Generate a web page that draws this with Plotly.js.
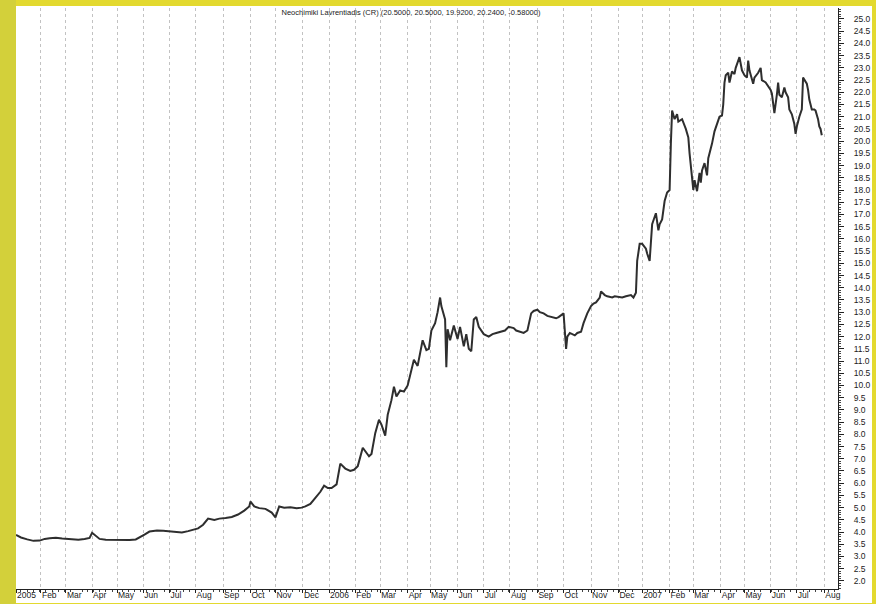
<!DOCTYPE html>
<html>
<head>
<meta charset="utf-8">
<script src="https://cdn.plot.ly/plotly-3.0.1.min.js"></script>
<style>html,body{margin:0;padding:0;background:#e3d92f;}#chart{width:876px;height:604px;}</style>
</head>
<body>
<div id="chart"></div>
<script>
// ---- data ----
const dates = [
"2005-01-03","2005-01-10","2005-01-17","2005-01-24","2005-01-31","2005-02-04","2005-02-10","2005-02-17","2005-02-24",
"2005-03-01","2005-03-08","2005-03-16","2005-03-23","2005-03-30","2005-04-01","2005-04-06","2005-04-11","2005-04-18","2005-04-25",
"2005-05-03","2005-05-10","2005-05-17","2005-05-24","2005-05-30","2005-06-02","2005-06-08","2005-06-16","2005-06-24",
"2005-07-01","2005-07-08","2005-07-15","2005-07-22","2005-07-28","2005-08-03","2005-08-09","2005-08-16","2005-08-23","2005-08-29",
"2005-09-05","2005-09-12","2005-09-19","2005-09-26","2005-09-30","2005-10-03","2005-10-06","2005-10-12","2005-10-19","2005-10-26",
"2005-11-01","2005-11-04","2005-11-10","2005-11-17","2005-11-24","2005-11-30","2005-12-05","2005-12-09","2005-12-15","2005-12-21","2005-12-27","2005-12-30",
"2006-01-04","2006-01-11","2006-01-16","2006-01-20","2006-01-26","2006-01-31","2006-02-03","2006-02-09","2006-02-16","2006-02-20","2006-02-23","2006-02-28",
"2006-03-02","2006-03-08","2006-03-10","2006-03-15","2006-03-17","2006-03-21","2006-03-24","2006-03-29",
"2006-04-03","2006-04-05","2006-04-10","2006-04-13","2006-04-19","2006-04-26","2006-04-28",
"2006-05-03","2006-05-08","2006-05-10","2006-05-12","2006-05-15","2006-05-17","2006-05-18","2006-05-19","2006-05-22","2006-05-24","2006-05-29",
"2006-06-01","2006-06-05","2006-06-08","2006-06-13","2006-06-15","2006-06-19","2006-06-21","2006-06-23","2006-06-27",
"2006-07-03","2006-07-07","2006-07-12","2006-07-17","2006-07-21","2006-07-26","2006-07-31",
"2006-08-04","2006-08-08","2006-08-14","2006-08-17","2006-08-22","2006-08-25","2006-08-29",
"2006-09-01","2006-09-05","2006-09-08","2006-09-13","2006-09-18","2006-09-22","2006-09-26",
"2006-10-02","2006-10-04","2006-10-05","2006-10-09","2006-10-13","2006-10-17","2006-10-20","2006-10-24","2006-10-27",
"2006-11-01","2006-11-03","2006-11-07","2006-11-10","2006-11-13","2006-11-16","2006-11-20","2006-11-24","2006-11-28",
"2006-12-01","2006-12-06","2006-12-11","2006-12-15","2006-12-19","2006-12-21","2006-12-22","2006-12-28",
"2007-01-02","2007-01-05","2007-01-08","2007-01-10","2007-01-12","2007-01-17","2007-01-19","2007-01-22","2007-01-24","2007-01-26","2007-01-30",
"2007-02-01","2007-02-02","2007-02-05","2007-02-07","2007-02-09","2007-02-12","2007-02-15","2007-02-21","2007-02-23","2007-02-26","2007-02-27",
"2007-03-01","2007-03-02","2007-03-06","2007-03-08","2007-03-09","2007-03-12","2007-03-14","2007-03-16","2007-03-19","2007-03-22","2007-03-26","2007-03-29","2007-03-30",
"2007-04-03","2007-04-04","2007-04-05","2007-04-10","2007-04-12","2007-04-13","2007-04-17","2007-04-19","2007-04-20","2007-04-24","2007-04-25","2007-04-27",
"2007-05-02","2007-05-04","2007-05-07","2007-05-08","2007-05-11","2007-05-14","2007-05-17","2007-05-21","2007-05-22","2007-05-25",
"2007-06-01","2007-06-04","2007-06-06","2007-06-08","2007-06-11","2007-06-12","2007-06-14","2007-06-18","2007-06-19","2007-06-21","2007-06-22","2007-06-26","2007-06-28","2007-06-29",
"2007-07-02","2007-07-04","2007-07-06","2007-07-09","2007-07-10","2007-07-12","2007-07-13","2007-07-16","2007-07-18","2007-07-20","2007-07-23","2007-07-25","2007-07-26","2007-07-27","2007-07-30"
];
const prices = [
3.88,3.78,3.70,3.64,3.65,3.72,3.75,3.77,3.74,
3.73,3.71,3.69,3.72,3.76,3.97,3.85,3.72,3.69,3.68,
3.67,3.66,3.68,3.70,3.80,3.90,4.02,4.06,4.05,
4.02,4.00,3.98,4.04,4.08,4.15,4.30,4.55,4.50,4.55,
4.58,4.62,4.72,4.88,5.05,5.25,5.05,4.98,4.95,4.80,
4.60,5.05,5.00,5.02,4.98,5.00,5.05,5.15,5.40,5.65,5.90,5.80,
5.80,5.95,6.80,6.60,6.50,6.55,6.70,7.45,7.10,7.20,8.05,8.60,
8.40,7.95,8.80,9.40,9.95,9.55,9.80,9.75,
10.00,10.40,11.05,10.80,11.85,11.45,11.50,
12.25,12.55,13.00,13.60,13.25,12.80,12.70,10.75,12.30,11.85,12.45,
11.90,12.40,11.60,12.10,11.50,11.40,12.70,12.80,12.40,
12.10,12.00,12.10,12.15,12.20,12.25,12.40,
12.35,12.25,12.20,12.15,12.25,12.95,13.05,
13.10,13.00,12.95,12.85,12.80,12.75,12.80,
12.95,11.50,12.00,12.15,12.05,12.15,12.20,12.55,12.95,
13.25,13.35,13.40,13.60,13.85,13.70,13.65,13.60,13.65,
13.62,13.60,13.65,13.70,13.60,13.80,15.10,15.80,
15.80,15.60,15.40,15.10,16.60,17.05,16.35,16.60,16.80,17.55,17.90,
18.00,19.90,21.25,20.90,21.10,20.80,20.90,20.50,20.15,19.50,18.90,
18.00,18.40,17.95,18.70,18.30,18.80,19.10,18.60,19.30,19.90,20.40,20.85,21.00,
21.05,21.50,22.40,22.70,22.80,22.40,22.85,22.75,23.00,23.30,23.44,22.90,
22.70,22.60,23.30,22.90,22.35,22.60,22.80,23.00,22.50,22.40,
22.10,21.95,21.15,21.90,22.40,21.90,21.80,22.20,22.00,21.80,21.30,21.10,20.70,20.30,
20.60,21.00,21.30,22.60,22.50,22.35,22.10,21.70,21.30,21.30,21.25,20.90,20.60,20.50,20.24
];
// first trading day of each month and its label
const monthTicks = [
"2005-01-03","2005-02-01","2005-03-01","2005-04-01","2005-05-03","2005-06-01","2005-07-01","2005-08-01","2005-09-01","2005-10-03","2005-11-01","2005-12-01",
"2006-01-02","2006-02-01","2006-03-01","2006-04-03","2006-05-02","2006-06-01","2006-07-03","2006-08-01","2006-09-01","2006-10-02","2006-11-01","2006-12-01",
"2007-01-02","2007-02-01","2007-03-01","2007-04-02","2007-05-02","2007-06-01","2007-07-02","2007-08-01"
];
const monthLabels = [
"2005","Feb","Mar","Apr","May","Jun","Jul","Aug","Sep","Oct","Nov","Dec",
"2006","Feb","Mar","Apr","May","Jun","Jul","Aug","Sep","Oct","Nov","Dec",
"2007","Feb","Mar","Apr","May","Jun","Jul","Aug"
];
// Athens exchange holidays (non-trading weekdays)
const holidays = [
"2005-01-06","2005-03-14","2005-03-25","2005-04-29","2005-05-02","2005-06-20","2005-08-15","2005-10-28","2005-12-26",
"2006-01-06","2006-03-06","2006-04-21","2006-04-24","2006-05-01","2006-06-12","2006-08-15","2006-12-25","2006-12-26",
"2007-01-01","2007-02-19","2007-04-06","2007-04-09","2007-05-01","2007-05-28"
];
const titleText = "Neochimiki Lavrentiadis (CR) (20.5000, 20.5000, 19.9200, 20.2400, -0.58000)";

// weekly minor ticks (Mondays) for the time axis
const weekTicks = [];
for (let d = new Date(Date.UTC(2005,0,3)); d <= new Date(Date.UTC(2007,7,20)); d.setUTCDate(d.getUTCDate()+7)) {
  weekTicks.push(d.toISOString().slice(0,10));
}

const W = 876, H = 604;
const mL = 16, mR = 38, mT = 8, mB = 15;
const pw = W - mL - mR, ph = H - mT - mB;

const trace = {
  type: "scatter", mode: "lines", x: dates, y: prices,
  line: {color: "#2e2e2e", width: 2}, hoverinfo: "x+y"
};

const fontTick = {family: "Liberation Sans, Arial, sans-serif", size: 8.5, color: "#222"};

const layout = {
  width: W, height: H,
  margin: {l: mL, r: mR, t: mT, b: mB, pad: 0},
  paper_bgcolor: "#e3d92f",
  plot_bgcolor: "#ffffff",
  showlegend: false,
  title: {
    text: titleText, font: {family: "Liberation Sans, Arial, sans-serif", size: 7.5, color: "#222"},
    xref: "container", yref: "container", x: 411/W, y: 1 - 12/H, xanchor: "center", yanchor: "middle"
  },
  xaxis: {
    type: "date",
    range: ["2005-01-03", "2007-08-16"],
    rangebreaks: [{bounds: ["sat", "mon"]}, {values: holidays}],
    tickmode: "array", tickvals: monthTicks, ticktext: monthLabels,
    tickangle: 0,
    ticklabelposition: "outside right",
    ticklabelstandoff: -2,
    ticks: "outside", ticklen: 3, tickcolor: "#222", tickwidth: 1,
    minor: {tickmode: "array", tickvals: weekTicks, ticks: "outside", ticklen: 2, tickcolor: "#444", showgrid: false},
    showgrid: true, gridcolor: "#c2c2c2", griddash: "dot", gridwidth: 1,
    showline: true, linecolor: "#222", linewidth: 1,
    zeroline: false, tickfont: fontTick, fixedrange: true,
    automargin: false
  },
  yaxis: {
    side: "right",
    range: [1.67, 25.45],
    tickmode: "linear", tick0: 0, dtick: 0.5, tickformat: ".1f",
    ticks: "outside", ticklen: 5, tickcolor: "#222",
    ticklabelstandoff: 8,
    minor: {dtick: 0.1, ticks: "outside", ticklen: 2, tickcolor: "#444"},
    showgrid: false, zeroline: false,
    showline: true, linecolor: "#222", linewidth: 1,
    tickfont: fontTick, fixedrange: true,
    automargin: false
  },
  shapes: [
    {type: "rect", xref: "paper", yref: "paper", layer: "below",
     x0: 0, x1: (872 - mL)/pw, y0: (H - mB - 603)/ph, y1: (H - mB - 6)/ph,
     fillcolor: "#ffffff", line: {width: 0}},
    {type: "rect", xref: "paper", yref: "paper", layer: "below",
     x0: -mL/pw, x1: 0, y0: -mB/ph, y1: 1 + mT/ph,
     fillcolor: "#d3d03a", line: {width: 0}}
  ]
};

Plotly.newPlot("chart", [trace], layout, {staticPlot: true, displayModeBar: false});
</script>
</body>
</html>
